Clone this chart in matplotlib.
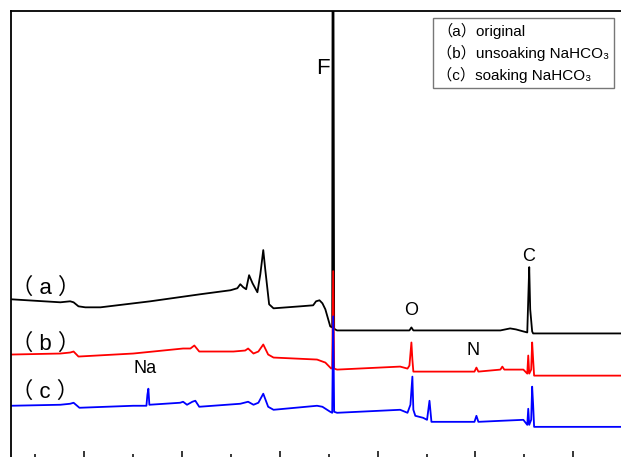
#!/usr/bin/env python3

import numpy as np
from matplotlib import pyplot as plt
from matplotlib.lines import Line2D
from matplotlib.ticker import MultipleLocator

plt.rcParams['font.family'] = ['Liberation Sans', 'Noto Sans CJK SC', 'DejaVu Sans']

# binding energy (eV) and intensity (a.u., curves already stacked)
E_a = [1350, 1249, 1229, 1222, 1212, 1198, 1167, 1065, 963, 901, 887, 881, 875, 869,
       863, 856, 846, 840, 834, 830, 822, 813, 758, 732, 726, 719, 713, 707, 697, 693,
       692, 691, 689, 687, 683, 535, 531, 527, 349, 329, 317, 302, 294, 292, 290, 288, 284,
       282, 0]
I_a = [159, 156, 157, 156, 152, 151, 151, 157, 164, 168, 170, 174, 171, 169,
       183, 175, 166, 184, 208, 189, 154, 150, 152, 153, 157, 158, 155, 149, 132, 131,
       600, 600, 130, 129, 128, 128, 131, 128, 128, 130, 129, 127, 126, 159, 191, 149, 127,
       125, 125]

E_b = [1350, 1249, 1229, 1222, 1212, 1100, 998, 983, 975, 965, 895, 871, 865, 854,
       844, 834, 824, 813, 724, 707, 695, 693, 691, 689, 683, 554, 539, 535, 531, 529,
       527, 402, 398, 394, 349, 345, 341, 302, 294, 292, 290, 286, 284, 282, 280, 0]
I_b = [104, 105, 106, 107, 102, 105, 110, 110, 113, 107, 107, 108, 110, 105,
       107, 114, 104, 101, 99, 96, 90, 91, 187, 90, 89, 92, 90, 93, 116, 99,
       87, 87, 91, 87, 89, 92, 89, 89, 85, 103, 85, 89, 116, 99, 83, 83]

E_c = [1350, 1249, 1229, 1222, 1210, 1100, 1073, 1071, 1069, 1067, 1004, 998, 990,
       979, 973, 965, 881, 865, 854, 844, 834, 824, 813, 724, 713, 697, 693, 691, 689,
       683, 554, 539, 533, 529, 527, 523, 507, 499, 494, 490, 402, 398, 394, 349, 302,
       294, 292, 290, 286, 284, 282, 280, 0]
I_c = [53, 54, 55, 56, 51, 53, 53, 64, 70, 54, 56, 57, 54,
       57, 58, 52, 55, 57, 54, 56, 65, 52, 49, 53, 52, 47, 46, 142, 47,
       46, 49, 46, 54, 82, 49, 43, 41, 39, 58, 37, 37, 43, 37, 38, 39,
       34, 50, 34, 39, 72, 54, 32, 32]

curve_labels = ['（ a ）', '（ b ）', '（ c ）']
curve_label_pos = [(1350, 164), (1350, 109), (1350, 61)]
legend_labels = ['（a）original', '（b）unsoaking NaHCO₃', '（c）soaking NaHCO₃']

peak_names = ['F', 'O', 'N', 'C', 'Na']
peak_pos = [(711, 383), (531, 143), (404, 104), (292, 197), (1075, 86)]
peak_size = [16, 13, 13, 13, 13]

fig = plt.figure(figsize=(6.21, 4.57), dpi=100)
ax = fig.add_axes([11/621, -2/457, 660/621, 448/457])

ax.plot(E_a, I_a, color='black', lw=1.3)
ax.plot(E_b, I_b, color='red', lw=1.3)
ax.plot(E_c, I_c, color='blue', lw=1.3)

ax.set_xlim(1350, 0)
ax.set_ylim(0, 446)
ax.xaxis.set_major_locator(MultipleLocator(200))
ax.xaxis.set_minor_locator(MultipleLocator(100))
ax.tick_params(axis='x', which='both', direction='in', labelbottom=False, width=1.1)
ax.tick_params(axis='x', which='major', length=6)
ax.tick_params(axis='x', which='minor', length=3.5)
ax.set_yticks([])
for s in ax.spines.values():
    s.set_linewidth(1.3)

for lab, (x, y) in zip(curve_labels, curve_label_pos):
    ax.text(x, y, lab, fontsize=16, ha='left', va='baseline')

for k, (x, y), fs in zip(peak_names, peak_pos, peak_size):
    ax.text(x, y, k, fontsize=fs, ha='center', va='baseline')

handles = [Line2D([], [], lw=0) for _ in legend_labels]
leg = ax.legend(handles, legend_labels, loc='upper right', bbox_to_anchor=(614/621, 1-18/457),
                bbox_transform=fig.transFigure, borderaxespad=0, handlelength=0, handletextpad=0,
                fontsize=11, fancybox=False, frameon=True, labelspacing=0.4, borderpad=0.3)
leg.get_frame().set_edgecolor('#555555')
leg.get_frame().set_linewidth(1.0)

fig.savefig('out.png', dpi=100)
